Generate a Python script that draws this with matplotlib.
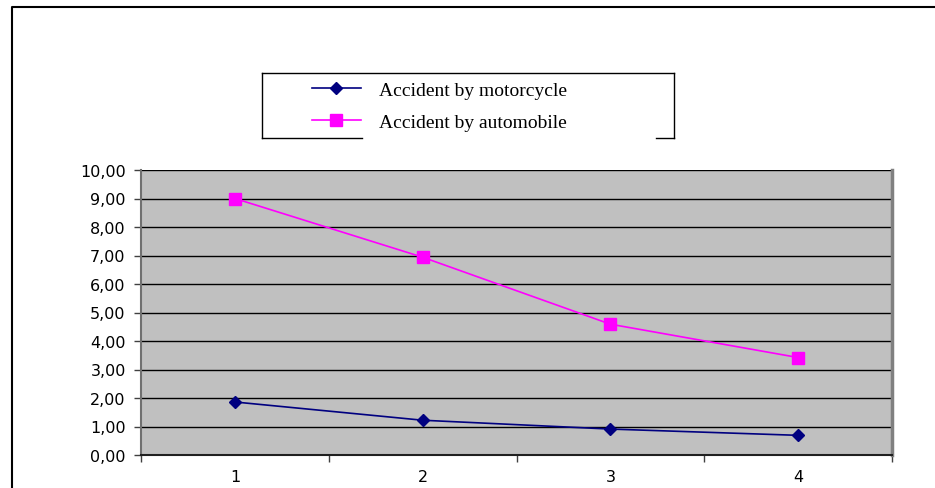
import matplotlib.pyplot as plt
from matplotlib.lines import Line2D

# Data
periods = [1, 2, 3, 4]
motorcycle = [1.86, 1.22, 0.91, 0.69]
automobile = [9.00, 6.94, 4.59, 3.42]
y_ticks = [0, 1, 2, 3, 4, 5, 6, 7, 8, 9, 10]
y_labels = ['0,00', '1,00', '2,00', '3,00', '4,00', '5,00',
            '6,00', '7,00', '8,00', '9,00', '10,00']

W, H = 935, 489
fig = plt.figure(figsize=(W / 100, H / 100), dpi=100)

# Plot area in pixel coords -> figure fractions
left, right, top, bottom = 141, 892, 171, 456
ax = fig.add_axes([left / W, 1 - bottom / H, (right - left) / W, (bottom - top) / H])
ax.set_facecolor('#c0c0c0')

ax.plot(periods, motorcycle, color='#000080', marker='D', markersize=6.5,
        linewidth=1.2, label='Accident by motorcycle', zorder=3)
ax.plot(periods, automobile, color='#ff00ff', marker='s', markersize=8,
        linewidth=1.2, label='Accident by automobile', zorder=3)

ax.set_xlim(0.5, 4.5)
ax.set_ylim(0, 10)

# y axis
ax.set_yticks(y_ticks)
ax.set_yticklabels(y_labels, family='DejaVu Sans', fontsize=11.5)
ax.yaxis.grid(True, color='black', linewidth=1)
ax.set_axisbelow(True)

# x axis: ticks between categories, labels at the centres
ax.set_xticks([0.5, 1.5, 2.5, 3.5, 4.5])
ax.set_xticklabels([])
ax.set_xticks(periods, minor=True)
ax.set_xticklabels([str(p) for p in periods], minor=True,
                   family='DejaVu Sans', fontsize=11.5)
ax.tick_params(axis='x', which='minor', length=0, pad=10)
ax.tick_params(axis='both', which='major', length=5, width=1, color='#404040')
ax.tick_params(axis='y', pad=6)

ax.spines['top'].set_visible(False)
ax.spines['bottom'].set_color('#202020')
ax.spines['bottom'].set_linewidth(1.5)
ax.spines['left'].set_color('#707070')
ax.spines['left'].set_linewidth(1.5)
ax.spines['right'].set_color('#808080')
ax.spines['right'].set_linewidth(2.5)

# Legend (no frame, box drawn by hand with a gap at the bottom)
leg = fig.legend(loc='center left', bbox_to_anchor=(312 / W, 1 - 107 / H),
                 frameon=False, borderpad=0, borderaxespad=0,
                 prop={'family': 'Liberation Serif', 'size': 14},
                 handlelength=2.5, handletextpad=0.95, labelspacing=0.75)


def fx(x):
    return x / W


def fy(y):
    return 1 - y / H


box = [((262, 74), (674, 74)), ((262, 74), (262, 139)), ((674, 74), (674, 139)),
       ((262, 139), (362, 139)), ((656, 139), (674, 139))]
for (x0, y0), (x1, y1) in box:
    fig.add_artist(Line2D([fx(x0), fx(x1)], [fy(y0), fy(y1)],
                          transform=fig.transFigure, color='black', linewidth=1))

# Outer chart frame (left and top edges)
fig.add_artist(Line2D([fx(12), fx(12), fx(935)], [fy(489), fy(8), fy(8)],
                      transform=fig.transFigure, color='black', linewidth=1.5))

fig.savefig('out.png', dpi=100)
